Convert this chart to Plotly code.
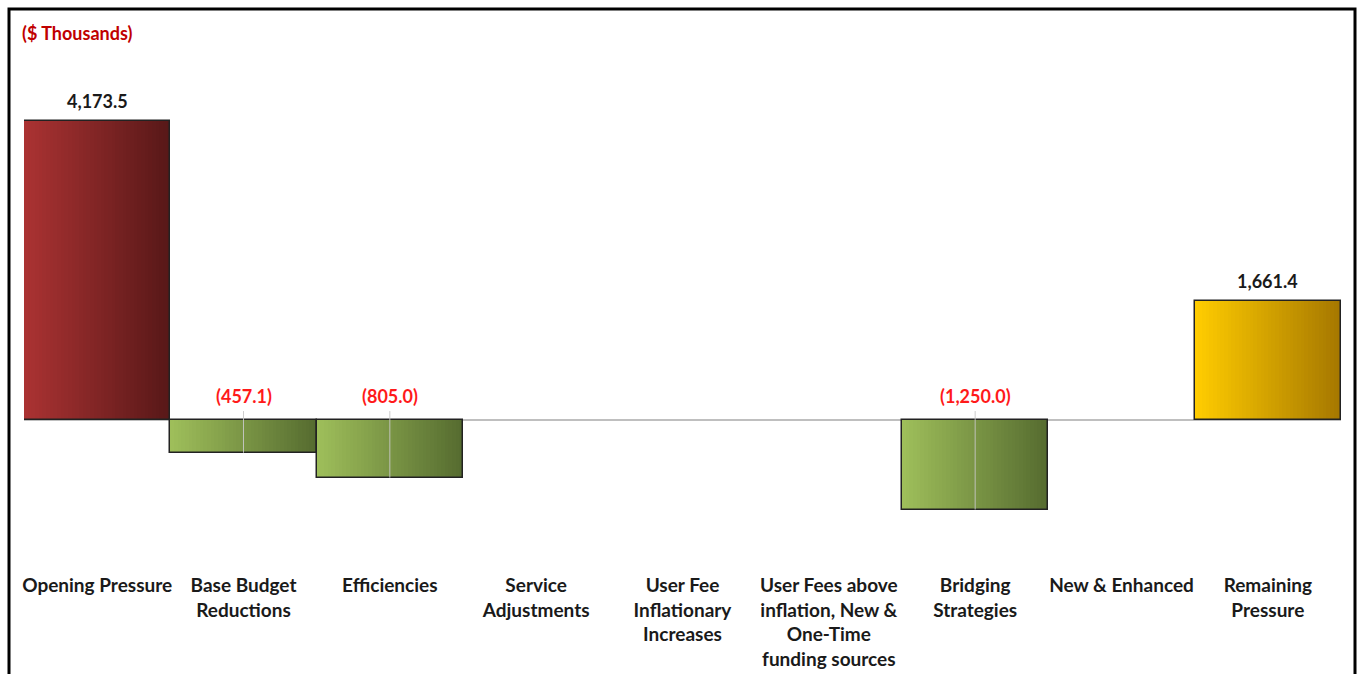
import plotly.graph_objects as go

# Budget pressure components ($ thousands)
categories = [
    "Opening Pressure",
    "Base Budget<br>Reductions",
    "Efficiencies",
    "Service<br>Adjustments",
    "User Fee<br>Inflationary<br>Increases",
    "User Fees above<br>inflation, New &<br>One-Time<br>funding sources",
    "Bridging<br>Strategies",
    "New & Enhanced",
    "Remaining<br>Pressure",
]
values = [4173.5, -457.1, -805.0, 0.0, 0.0, 0.0, -1250.0, 0.0, 1661.4]
kinds = ["opening", "reduction", "reduction", "reduction", "reduction",
         "reduction", "reduction", "reduction", "remaining"]

# left -> right gradient end colours for each bar kind
gradients = {
    "opening": ((170, 50, 50), (88, 24, 24)),
    "reduction": ((158, 190, 90), (86, 108, 48)),
    "remaining": ((255, 204, 0), (166, 120, 0)),
}

FONT = "Liberation Sans Narrow, Lato, Arial Narrow, sans-serif"

bar_vals = [v if v != 0 else None for v in values]


def mix(c0, c1, t):
    return "rgb({},{},{})".format(*[round(a + (b - a) * t) for a, b in zip(c0, c1)])


fig = go.Figure()

# horizontal gradient: overlapping strips, each running to the right edge
N = 40
for i in range(N):
    t = i / (N - 1)
    colors = [mix(*gradients[k], t) for k in kinds]
    fig.add_trace(go.Bar(
        x=categories, y=bar_vals,
        offset=-0.5 + i / N, width=1 - i / N,
        marker=dict(color=colors, line=dict(width=0)),
        hoverinfo="skip", showlegend=False,
    ))

# thin centre guide lines through the reduction bars
gx, gy = [], []
for c, v in zip(categories, values):
    if v < 0:
        gx += [c, c, None]
        gy += [125, v, None]
fig.add_trace(go.Scatter(
    x=gx, y=gy, mode="lines",
    line=dict(color="rgba(200,200,200,0.9)", width=1),
    hoverinfo="skip", showlegend=False,
))

# bar outlines
fig.add_trace(go.Bar(
    x=categories, y=bar_vals, offset=-0.5, width=1,
    marker=dict(color="rgba(0,0,0,0)", line=dict(color="#222222", width=1.5)),
    hovertemplate="%{x}: %{y:,.1f}<extra></extra>", showlegend=False,
))

# value labels
for c, v in zip(categories, values):
    if v == 0:
        continue
    if v > 0:
        txt, col, y, shift = f"{v:,.1f}", "#1a1a1a", v, 7
    else:
        txt, col, y, shift = f"({abs(v):,.1f})", "#ff1a1a", 0, 11
    fig.add_annotation(
        x=c, y=y, text=f"<b>{txt}</b>", showarrow=False,
        yanchor="bottom", yshift=shift,
        font=dict(family=FONT, size=18, color=col),
    )

# pixel geometry of the plot area
W, H = 1360, 674
left, right = 24, 1341
zero_px, top_val_px = 420, 121
scale = (zero_px - top_val_px) / values[0]   # px per unit
plot_top, plot_bottom = 60, 572
y_max = (zero_px - plot_top) / scale
y_min = -(plot_bottom - zero_px) / scale

pw = right - left
ph = plot_bottom - plot_top

# outer black frame
fig.add_shape(
    type="rect", xref="paper", yref="paper",
    x0=(9 - left) / pw, x1=(1355 - left) / pw,
    y0=(plot_bottom - 700) / ph, y1=(plot_bottom - 9) / ph,
    line=dict(color="black", width=3), fillcolor="rgba(0,0,0,0)", layer="above",
)

fig.add_annotation(
    xref="paper", yref="paper",
    x=(20 - left) / pw, y=(plot_bottom - 33) / ph,
    xanchor="left", yanchor="middle", showarrow=False,
    text="<b>($ Thousands)</b>",
    font=dict(family=FONT, size=18, color="#c00000"),
)

fig.update_layout(
    width=W, height=H,
    margin=dict(l=left, r=W - right, t=plot_top, b=H - plot_bottom, pad=0,
                autoexpand=False),
    paper_bgcolor="white", plot_bgcolor="white",
    barmode="overlay", bargap=0,
    font=dict(family=FONT, size=18, color="#1a1a1a"),
    xaxis=dict(
        showgrid=False, zeroline=False, showline=False, ticks="",
        tickfont=dict(family=FONT, size=19, color="#1a1a1a"),
        automargin=False, fixedrange=True,
    ),
    yaxis=dict(
        range=[y_min, y_max], showgrid=False, showticklabels=False,
        zeroline=True, zerolinecolor="#bfbfbf", zerolinewidth=2,
        showline=False, automargin=False, fixedrange=True,
    ),
)
fig.update_xaxes(tickprefix="<b>", ticksuffix="</b>")

fig.write_html("out.html", config={"displayModeBar": False})
